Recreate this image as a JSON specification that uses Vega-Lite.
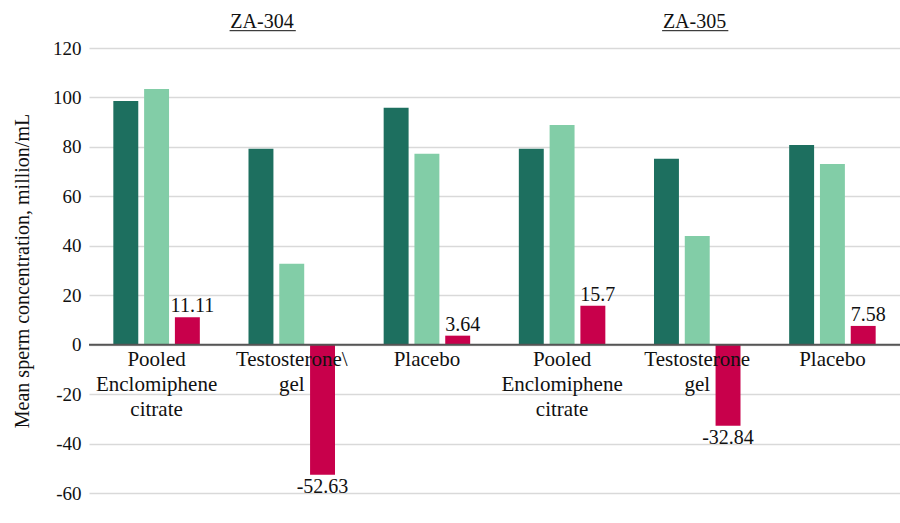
{
  "$schema": "https://vega.github.io/schema/vega-lite/v6.json",
  "width": 811,
  "height": 445,
  "autosize": "none",
  "padding": {"left": 89, "top": 48, "right": 0, "bottom": 30},
  "background": "white",
  "config": {
    "font": "Liberation Serif",
    "view": {"stroke": null},
    "axis": {"labelFont": "Liberation Serif", "titleFont": "Liberation Serif"},
    "text": {"font": "Liberation Serif"}
  },
  "datasets": {
    "bars": [
      {"cat": "304-Pooled", "series": "a", "value": 98.6, "lab": ""},
      {"cat": "304-Pooled", "series": "b", "value": 103.4, "lab": ""},
      {"cat": "304-Pooled", "series": "c", "value": 11.11, "lab": "11.11"},
      {"cat": "304-Testo", "series": "a", "value": 79.2, "lab": ""},
      {"cat": "304-Testo", "series": "b", "value": 32.7, "lab": ""},
      {"cat": "304-Testo", "series": "c", "value": -52.63, "lab": "-52.63"},
      {"cat": "304-Placebo", "series": "a", "value": 95.8, "lab": ""},
      {"cat": "304-Placebo", "series": "b", "value": 77.2, "lab": ""},
      {"cat": "304-Placebo", "series": "c", "value": 3.64, "lab": "3.64"},
      {"cat": "305-Pooled", "series": "a", "value": 79.2, "lab": ""},
      {"cat": "305-Pooled", "series": "b", "value": 88.9, "lab": ""},
      {"cat": "305-Pooled", "series": "c", "value": 15.7, "lab": "15.7"},
      {"cat": "305-Testo", "series": "a", "value": 75.2, "lab": ""},
      {"cat": "305-Testo", "series": "b", "value": 44.0, "lab": ""},
      {"cat": "305-Testo", "series": "c", "value": -32.84, "lab": "-32.84"},
      {"cat": "305-Placebo", "series": "a", "value": 80.8, "lab": ""},
      {"cat": "305-Placebo", "series": "b", "value": 73.1, "lab": ""},
      {"cat": "305-Placebo", "series": "c", "value": 7.58, "lab": "7.58"}
    ],
    "cats": [
      {"cat": "304-Pooled", "label": "Pooled\nEnclomiphene\ncitrate"},
      {"cat": "304-Testo", "label": "Testosterone\\\ngel"},
      {"cat": "304-Placebo", "label": "Placebo"},
      {"cat": "305-Pooled", "label": "Pooled\nEnclomiphene\ncitrate"},
      {"cat": "305-Testo", "label": "Testosterone\ngel"},
      {"cat": "305-Placebo", "label": "Placebo"}
    ],
    "headers": [
      {"label": "ZA-304", "pos": 1.28, "start": 1.04, "end": 1.53, "ty": 130.5, "uy": 127},
      {"label": "ZA-305", "pos": 4.48, "start": 4.24, "end": 4.73, "ty": 130.5, "uy": 127}
    ]
  },
  "encoding": {
    "y": {"type": "quantitative",
          "scale": {"domain": [-60, 120], "nice": false, "zero": false},
          "axis": {"values": [-60, -40, -20, 0, 20, 40, 60, 80, 100, 120],
                   "labelExpr": "toString(datum.value)",
                   "title": "Mean sperm concentration, million/mL",
                   "titleFont": "Liberation Serif",
                   "titleFontSize": 20, "titleFontWeight": "normal", "titleColor": "#111",
                   "titlePadding": 20,
                   "labelFont": "Liberation Serif",
                   "labelFontSize": 19, "labelColor": "#111", "labelPadding": 8,
                   "ticks": false, "domain": false,
                   "grid": true, "gridColor": "#d9d9d9", "gridWidth": 1.5}}
  },
  "layer": [
    {
      "layer": [
        {
          "data": {"name": "bars"},
          "mark": {"type": "bar"},
          "encoding": {
            "x": {"field": "cat", "type": "nominal", "sort": null,
                  "scale": {"paddingInner": 0.36, "paddingOuter": 0.18}, "axis": null},
            "xOffset": {"field": "series", "type": "nominal",
                        "scale": {"paddingInner": 0.19, "paddingOuter": 0}},
            "y": {"field": "value"},
            "color": {"field": "series", "type": "nominal",
                      "scale": {"domain": ["a", "b", "c"], "range": ["#1d6f5f", "#82cda7", "#c8004b"]},
                      "legend": null}
          }
        },
        {
          "data": {"name": "bars"},
          "transform": [{"filter": "datum.series === 'c' && datum.value >= 0"}],
          "mark": {"type": "text", "baseline": "bottom", "dy": -1, "dx": 5, "fontSize": 20, "color": "#111", "font": "Liberation Serif"},
          "encoding": {
            "x": {"field": "cat", "type": "nominal", "sort": null, "axis": null},
            "xOffset": {"field": "series", "type": "nominal"},
            "y": {"field": "value"},
            "text": {"field": "lab"}
          }
        },
        {
          "data": {"name": "bars"},
          "transform": [{"filter": "datum.series === 'c' && datum.value < 0"}],
          "mark": {"type": "text", "baseline": "top", "dy": 2, "fontSize": 20, "color": "#111", "font": "Liberation Serif"},
          "encoding": {
            "x": {"field": "cat", "type": "nominal", "sort": null, "axis": null},
            "xOffset": {"field": "series", "type": "nominal"},
            "y": {"field": "value"},
            "text": {"field": "lab"}
          }
        },
        {
          "data": {"values": [{"z": 0}]},
          "mark": {"type": "rule", "color": "#555", "strokeWidth": 2},
          "encoding": {"y": {"field": "z"}}
        },
        {
          "data": {"name": "cats"},
          "mark": {"type": "text", "baseline": "top", "dy": 4, "fontSize": 21, "lineBreak": "\n", "lineHeight": 25, "color": "#111", "font": "Liberation Serif"},
          "encoding": {
            "x": {"field": "cat", "type": "nominal", "sort": null, "axis": null},
            "y": {"datum": 0},
            "text": {"field": "label"}
          }
        }
      ]
    },
    {
      "layer": [
        {
          "data": {"name": "headers"},
          "mark": {"type": "text", "baseline": "middle", "fontSize": 20, "color": "#111", "font": "Liberation Serif"},
          "encoding": {
            "x": {"field": "pos", "type": "quantitative", "scale": {"domain": [0, 6], "nice": false}, "axis": null},
            "y": {"field": "ty"},
            "text": {"field": "label"}
          }
        },
        {
          "data": {"name": "headers"},
          "mark": {"type": "rule", "color": "#111", "strokeWidth": 1},
          "encoding": {
            "x": {"field": "start", "type": "quantitative", "axis": null},
            "x2": {"field": "end"},
            "y": {"field": "uy"}
          }
        }
      ]
    }
  ],
  "resolve": {"scale": {"x": "independent"}}
}
